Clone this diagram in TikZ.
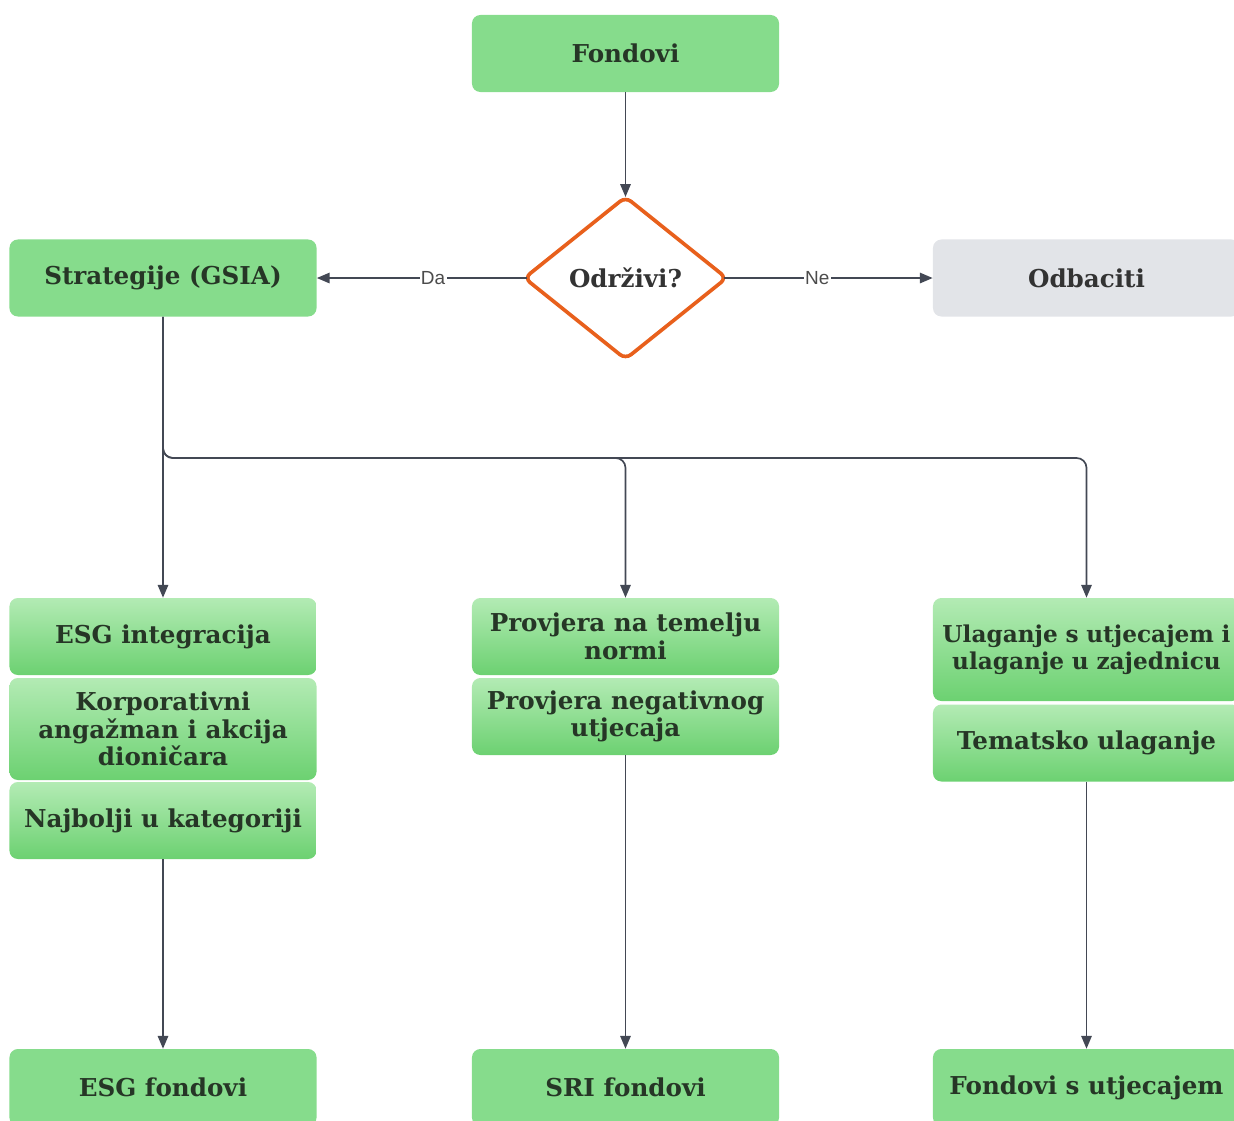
\documentclass[tikz,border=0pt]{standalone}
\usepackage{fontspec}
\setmainfont{DejaVu Serif}
\newfontfamily\labelfont{Liberation Sans}
\usetikzlibrary{arrows.meta, shapes.geometric}
\definecolor{boxgreen}{HTML}{86DC8C}
\definecolor{lightgreen}{HTML}{B3EBB4}
\definecolor{deepgreen}{HTML}{6CD171}
\definecolor{boxgray}{HTML}{E2E4E8}
\definecolor{decision}{HTML}{E8601C}
\definecolor{inkgreen}{HTML}{263626}
\definecolor{linkgray}{HTML}{434854}
\tikzset{%
	fund box/.style={
		rectangle,
		rounded corners=6pt,
		fill=boxgreen,
		minimum width=7.675cm,
		minimum height=1.925cm,
		text=inkgreen,
		align=center,
		font=\fontsize{17.5}{19.5}\selectfont\bfseries
	},
	reject box/.style={
		fund box,
		fill=boxgray,
		text=black!80
	},
	strategy box/.style={
		fund box,
		fill=none,
		top color=lightgreen,
		bottom color=deepgreen
	},
	question/.style={
		diamond,
		aspect=1.25,
		draw=decision,
		line width=2.6pt,
		rounded corners=5pt,
		fill=white,
		minimum width=5.05cm,
		minimum height=4.05cm,
		inner sep=0pt,
		outer sep=0pt,
		text=black!80,
		font=\fontsize{17.5}{19.5}\selectfont\bfseries
	},
	link/.style={
		draw=linkgray,
		line width=1.2pt,
		-{Triangle[length=0.32cm,width=0.26cm]}
	},
	answer/.style={
		fill=white,
		inner sep=1pt,
		text=black!70,
		font=\labelfont\fontsize{13.5}{15}\selectfont
	}
}

\begin{document}
\begin{tikzpicture}[x=0.025cm, y=-0.025cm]
	\useasboundingbox (0,0) rectangle (1234,1120);
	
	\node[fund box] (fonds) at (625.5,53.5) {Fondovi};
	\node[question] (odr) at (625.5,278) {Održivi?};
	\node[fund box] (strat) at (163,278) {Strategije (GSIA)};
	\node[reject box] (reject) at (1086.5,278) {Odbaciti};
	
	% strategies, left column
	\node[strategy box] (esg) at (163,636.5) {ESG integracija};
	\node[strategy box, minimum height=2.55cm] (corp) at (163,729) {Korporativni\\angažman i akcija\\dioničara};
	\node[strategy box] (best) at (163,820.5) {Najbolji u kategoriji};
	
	% strategies, middle column
	\node[strategy box] (norm) at (625.5,636.5) {Provjera na temelju\\normi};
	\node[strategy box] (neg) at (625.5,716.5) {Provjera negativnog\\utjecaja};
	
	% strategies, right column
	\node[strategy box, minimum height=2.575cm, text width=7.3cm, inner xsep=0pt,
		font=\fontsize{16.5}{19.5}\selectfont\bfseries] (impact) at (1086.5,649.5) {Ulaganje s utjecajem i\\ulaganje u zajednicu};
	\node[strategy box] (theme) at (1086.5,743) {Tematsko ulaganje};
	
	% fund types
	\node[fund box] (esgf) at (163,1087.5) {ESG fondovi};
	\node[fund box] (srif) at (625.5,1087.5) {SRI fondovi};
	\node[fund box] (impf) at (1086.5,1087.5) {Fondovi s utjecajem};
	
	\coordinate (busM) at (625.5,458);
	\coordinate (busR) at (1086.5,458);
	
	\draw[link] (fonds) -- (odr.north);
	\draw[link, shorten <=-2pt] (odr.west) -- node[answer, pos=0.44] {Da} (strat);
	\draw[link, shorten <=-2pt] (odr.east) -- node[answer, pos=0.44] {Ne} (reject);
	
	\draw[link] (strat) -- (esg);
	\draw[link, rounded corners=7pt] (strat.south) |- (busM) -- (norm.north);
	\draw[link, rounded corners=7pt] (strat.south) |- (busR) -- (impact.north);
	
	\draw[link] (best) -- (esgf);
	\draw[link] (neg) -- (srif);
	\draw[link] (theme) -- (impf);
	
\end{tikzpicture}
\end{document}
